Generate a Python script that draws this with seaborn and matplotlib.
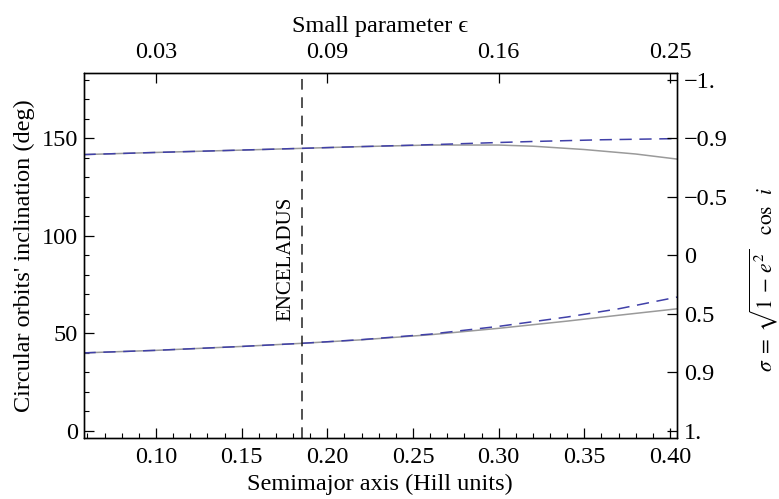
import numpy as np
import pandas as pd
import matplotlib
matplotlib.use("Agg")
import matplotlib.pyplot as plt
import seaborn as sns

# ---- data ----
a_upper_solid = [0.0577, 0.10, 0.15, 0.185, 0.22, 0.26, 0.30, 0.32, 0.35, 0.38, 0.4041]
i_upper_solid = [141.6, 142.7, 143.9, 144.8, 145.7, 146.5, 146.5, 145.9, 144.2, 141.9, 139.3]

a_upper_dash = [0.0577, 0.10, 0.125, 0.185, 0.22, 0.261, 0.30, 0.319, 0.36, 0.4041]
i_upper_dash = [141.6, 142.7, 143.3, 144.8, 145.7, 146.7, 147.8, 148.3, 149.2, 149.8]

a_lower_solid = [0.0577, 0.10, 0.15, 0.185, 0.22, 0.26, 0.30, 0.34, 0.37, 0.4041]
i_lower_solid = [39.9, 41.2, 43.2, 44.8, 46.6, 49.2, 52.5, 56.2, 59.2, 62.5]

a_lower_dash = [0.0577, 0.10, 0.15, 0.185, 0.22, 0.26, 0.30, 0.34, 0.37, 0.4041]
i_lower_dash = [39.9, 41.2, 43.2, 44.8, 46.7, 49.5, 53.5, 58.3, 62.5, 68.5]

enceladus_a = 0.185
enceladus_label = "ENCELADUS"

bottom_ticks = [0.10, 0.15, 0.20, 0.25, 0.30, 0.35, 0.40]
bottom_labels = ["0.10", "0.15", "0.20", "0.25", "0.30", "0.35", "0.40"]
top_ticks = [0.1, 0.2, 0.3, 0.4]
top_labels = ["0.03", "0.09", "0.16", "0.25"]
left_ticks = [0, 50, 100, 150]
left_labels = ["0", "50", "100", "150"]
right_ticks = [0, 30, 60, 90, 120, 150, 180]
right_labels = ["1.", "0.9", "0.5", "0", "\u22120.5", "\u22120.9", "\u22121."]

xlim = (0.0577, 0.4041)
ylim = (-3.6, 183.6)

# ---- style ----
sns.set_style("ticks")
plt.rcParams["font.family"] = ["Liberation Serif", "DejaVu Serif"]
plt.rcParams["mathtext.fontset"] = "stix"
for k in ["text.color", "axes.labelcolor", "xtick.color", "ytick.color", "axes.edgecolor"]:
    plt.rcParams[k] = "black"
FS = 17.5

fig = plt.figure(figsize=(7.79, 4.99), dpi=100)
ax = fig.add_axes([83.5 / 779, 1 - 437.7 / 499, (677 - 83.5) / 779, (437.7 - 72.7) / 499])

def frame(d, name):
    return pd.DataFrame({"a": d[0], "i": d[1], "curve": name})

gray = "#9a9a9a"
blue = "#4040a8"

sns.lineplot(data=frame((a_upper_solid, i_upper_solid), "us"), x="a", y="i", ax=ax,
             color=gray, lw=1.1, sort=True, estimator=None)
sns.lineplot(data=frame((a_lower_solid, i_lower_solid), "ls"), x="a", y="i", ax=ax,
             color=gray, lw=1.1, sort=True, estimator=None)
sns.lineplot(data=frame((a_upper_dash, i_upper_dash), "ud"), x="a", y="i", ax=ax,
             color=blue, lw=1.1, sort=True, estimator=None)
sns.lineplot(data=frame((a_lower_dash, i_lower_dash), "ld"), x="a", y="i", ax=ax,
             color=blue, lw=1.1, sort=True, estimator=None)
for ln in ax.lines[2:4]:
    ln.set_dashes([8, 5])

ax.axvline(enceladus_a, color="#222222", lw=1.1, dashes=(7, 5))
ax.text(enceladus_a - 0.0035, 56, enceladus_label, rotation=90, ha="right", va="bottom",
        fontsize=15)

ax.set_xlim(*xlim)
ax.set_ylim(*ylim)

ax.set_xticks(bottom_ticks)
ax.set_xticklabels(bottom_labels)
ax.set_xticks(np.arange(0.06, 0.405, 0.01), minor=True)
ax.set_yticks(left_ticks)
ax.set_yticklabels(left_labels)
ax.set_yticks(np.arange(0, 181, 10), minor=True)
ax.tick_params(axis="x", which="major", direction="in", length=7, width=0.9,
               labelsize=FS, pad=7, top=False)
ax.tick_params(axis="y", which="major", direction="in", length=7, width=0.9,
               labelsize=FS, pad=4, right=False)
ax.tick_params(axis="both", which="minor", direction="in", length=3.5, width=0.8,
               top=False, right=False)
ax.set_xlabel("Semimajor axis (Hill units)", fontsize=FS, labelpad=4)
ax.set_ylabel("Circular orbits' inclination (deg)", fontsize=FS, labelpad=5)

ax2 = ax.twinx()
ax2.set_ylim(*ylim)
ax2.set_yticks(right_ticks)
ax2.set_yticklabels(right_labels)
ax2.tick_params(axis="y", direction="in", length=7, width=0.9, labelsize=FS, pad=5)

ax3 = ax.twiny()
ax3.set_xlim(*xlim)
ax3.set_xticks(top_ticks)
ax3.set_xticklabels(top_labels)
ax3.tick_params(axis="x", direction="in", length=7, width=0.9, labelsize=FS, pad=7)
ax3.set_xlabel("Small parameter \u03f5", fontsize=FS, labelpad=7)

for a_ in (ax, ax2, ax3):
    for s in a_.spines.values():
        s.set_linewidth(0.9)
        s.set_color("black")

fig.text(764 / 779, 1 - 280 / 499, r"$\sigma\;=\;\sqrt{1\,-\,e^2}\quad\cos\;\; i$",
         rotation=90, ha="center", va="center", fontsize=15.5)

fig.savefig("out.png", dpi=100)
